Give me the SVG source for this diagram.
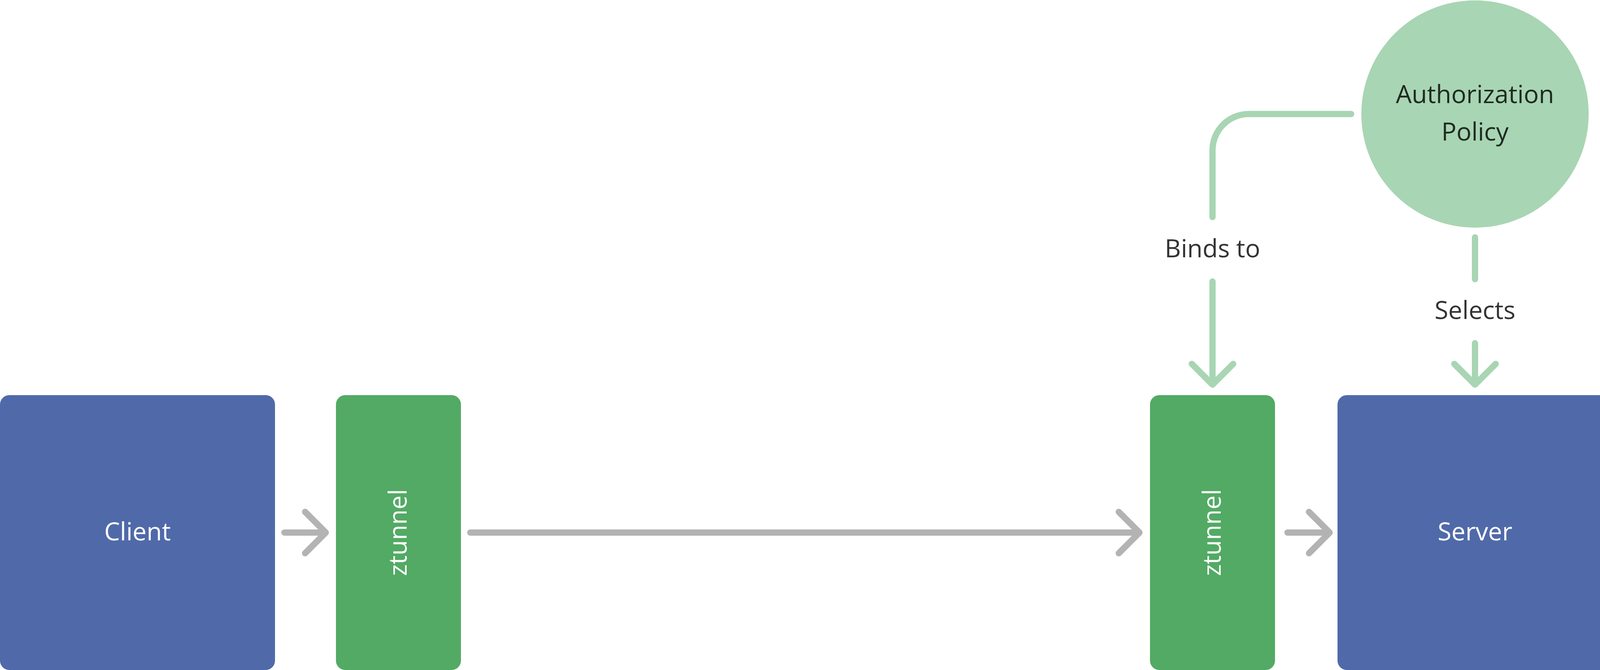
<svg xmlns="http://www.w3.org/2000/svg" width="4128" height="1716" viewBox="0 0 4128 1716">
<style>
.box-blue{fill:#506aa9}
.box-green{fill:#52aa64}
.lbl-w{font-family:"Open Sans","Liberation Sans",sans-serif;font-size:64px;fill:#ffffff;text-anchor:middle}
.lbl-d{font-family:"Open Sans","Liberation Sans",sans-serif;font-size:64px;fill:#333333;text-anchor:middle}
.lbl-c{font-family:"Open Sans","Liberation Sans",sans-serif;font-size:64px;fill:#1f2a22;text-anchor:middle}
.gray{fill:none;stroke:#b3b3b3;stroke-width:16;stroke-linecap:round;stroke-linejoin:round}
.lg{fill:none;stroke:#a8d5b3;stroke-width:16;stroke-linecap:round;stroke-linejoin:round}
</style>
<rect width="4128" height="1716" fill="#ffffff"/>
<g id="client">
<rect class="box-blue" x="0" y="1012" width="704" height="704" rx="24"/>
<text class="lbl-w" x="352" y="1384">Client</text>
</g>
<g id="ztunnel-client">
<rect class="box-green" x="860" y="1012" width="320" height="704" rx="24"/>
<text class="lbl-w" transform="translate(1041,1364) rotate(-90)" x="0" y="0">ztunnel</text>
</g>
<g id="ztunnel-server">
<rect class="box-green" x="2944" y="1012" width="320" height="704" rx="24"/>
<text class="lbl-w" transform="translate(3125,1364) rotate(-90)" x="0" y="0">ztunnel</text>
</g>
<g id="server">
<rect class="box-blue" x="3424" y="1012" width="704" height="704" rx="24"/>
<text class="lbl-w" x="3776" y="1384">Server</text>
</g>
<g id="authorization-policy">
<circle cx="3776" cy="292" r="291" fill="#a8d5b3"/>
<text class="lbl-c" x="3776" y="264">Authorization</text>
<text class="lbl-c" x="3776" y="360">Policy</text>
</g>
<g id="connectors">
<path class="gray" d="M728,1364 H834 M781,1311 L834,1364 L781,1417"/>
<path class="gray" d="M1204,1364 H2917 M2864,1311 L2917,1364 L2864,1417"/>
<path class="gray" d="M3296,1364 H3404 M3351,1311 L3404,1364 L3351,1417"/>
<path class="lg" d="M3459,292 H3197 A93,93 0 0 0 3104,385 V556"/>
<path class="lg" d="M3104,721 V985 M3051,932 L3104,985 L3157,932"/>
<text class="lbl-d" x="3104" y="659">Binds to</text>
<path class="lg" d="M3776,608 V715"/>
<path class="lg" d="M3776,879 V985 M3723,932 L3776,985 L3829,932"/>
<text class="lbl-d" x="3776" y="817">Selects</text>
</g>
</svg>
